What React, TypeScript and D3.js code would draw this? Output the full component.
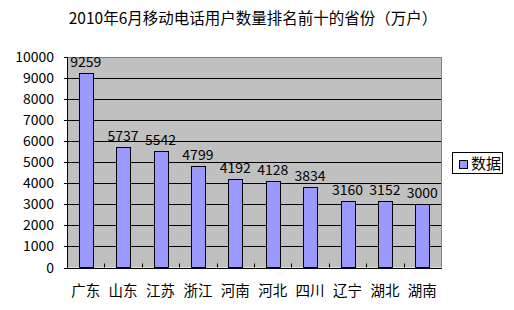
import React from "react";
import * as d3 from "d3";

const title = "2010年6月移动电话用户数量排名前十的省份（万户）";
const categories = ["广东", "山东", "江苏", "浙江", "河南", "河北", "四川", "辽宁", "湖北", "湖南"];
const values = [9259, 5737, 5542, 4799, 4192, 4128, 3834, 3160, 3152, 3000];
const yTicks = [0, 1000, 2000, 3000, 4000, 5000, 6000, 7000, 8000, 9000, 10000];
const seriesName = "数据";

const FONT = "'Noto Sans CJK SC', 'DejaVu Sans', sans-serif";

export default function App() {
  const W = 514, H = 310;
  const left = 67, right = 441, top = 57, bottom = 267.5;
  const x = d3.scaleBand<string>().domain(categories).range([left, right]).paddingInner(0).paddingOuter(0);
  const y = d3.scaleLinear().domain([0, 10000]).range([bottom, top]);
  const bw = 14;

  return (
    <svg width={W} height={H} style={{ position: "absolute", left: 0, top: 0, background: "#fff" }}>
      <rect x={0} y={0} width={W} height={H} fill="#fff" />
      <text x={253} y={24} textAnchor="middle" fontFamily={FONT} fontSize={15.5} fill="#000">{title}</text>
      <rect x={left} y={top} width={right - left} height={bottom - top} fill="#C0C0C0" />
      <line x1={left} x2={right + 0.5} y1={top + 0.5} y2={top + 0.5} stroke="#808080" />
      <line x1={right + 0.5} x2={right + 0.5} y1={top} y2={bottom} stroke="#808080" />
      {yTicks.filter(t => t > 0 && t < 10000).map(t => (
        <line key={t} x1={left} x2={right} y1={Math.round(y(t)) + 0.5} y2={Math.round(y(t)) + 0.5} stroke="#000" />
      ))}
      {categories.map((c, i) => {
        const cx = (x(c) as number) + x.bandwidth() / 2;
        const yt = y(values[i]);
        return (
          <g key={c}>
            <rect x={Math.round(cx - bw / 2) + 0.5} y={Math.round(yt) + 0.5} width={bw} height={bottom - Math.round(yt) - 0.5} fill="#9999FF" stroke="#000" strokeWidth={1} />
            <text x={cx} y={yt - 6} textAnchor="middle" fontFamily={FONT} fontSize={14} fill="#000">{values[i]}</text>
            <text x={cx} y={296} textAnchor="middle" fontFamily={FONT} fontSize={14.5} fill="#000">{c}</text>
          </g>
        );
      })}
      {categories.map((c, i) => i > 0 ? (
        <line key={"t" + c} x1={Math.round(x(c) as number) + 0.5} x2={Math.round(x(c) as number) + 0.5} y1={bottom - 4} y2={bottom} stroke="#000" />
      ) : null)}
      <line x1={left} x2={right + 1} y1={Math.round(bottom) + 0.5} y2={Math.round(bottom) + 0.5} stroke="#000" />
      <line x1={left + 0.5} x2={left + 0.5} y1={top} y2={bottom + 1} stroke="#000" />
      {yTicks.map(t => (
        <g key={"y" + t}>
          <line x1={left - 3} x2={left} y1={Math.round(y(t)) + 0.5} y2={Math.round(y(t)) + 0.5} stroke="#000" />
          <text x={54} y={y(t) + 5} textAnchor="end" fontFamily={FONT} fontSize={14} fill="#000">{t}</text>
        </g>
      ))}
      <rect x={452.5} y={152.5} width={50} height={21} fill="#fff" stroke="#000" />
      <rect x={459.5} y={160.5} width={8} height={8} fill="#9999FF" stroke="#000" />
      <text x={471} y={169} fontFamily={FONT} fontSize={15} fill="#000">{seriesName}</text>
    </svg>
  );
}
